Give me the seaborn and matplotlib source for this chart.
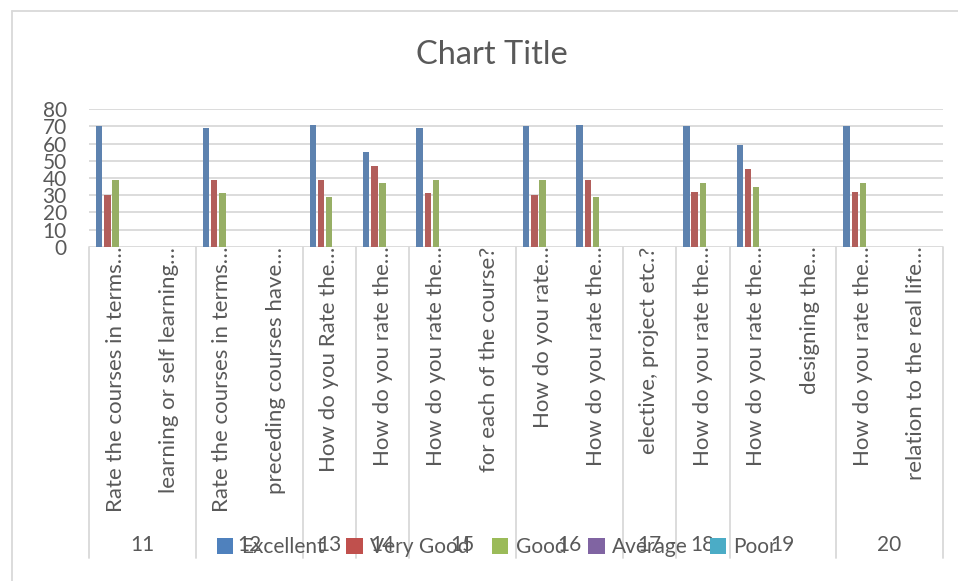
import matplotlib
matplotlib.use("Agg")
import matplotlib.pyplot as plt
import matplotlib.transforms as mtransforms
from matplotlib.patches import Patch
from matplotlib.lines import Line2D
import seaborn as sns
import pandas as pd

# ---------------- data ----------------
slot_labels = [
    "Rate the courses in terms\u2026", "learning or self learning\u2026",
    "Rate the courses in terms\u2026", "preceding courses have\u2026",
    "How do you Rate the\u2026",
    "How do you rate the\u2026",
    "How do you rate the\u2026", "for each of the course?",
    "How do you rate\u2026", "How do you rate the\u2026",
    "elective, project etc.?",
    "How do you rate the\u2026",
    "How do you rate the\u2026", "designing the\u2026",
    "How do you rate the\u2026", "relation to the real life\u2026",
]
group_names = ["11", "12", "13", "14", "15", "16", "17", "18", "19", "20"]
group_sizes = [2, 2, 1, 1, 2, 2, 1, 1, 2, 2]

series_names = ["Excellent", "Very Good", "Good", "Average", "Poor"]
series_colors = ["#4F81BD", "#C0504D", "#9BBB59", "#8064A2", "#4BACC6"]

excellent = [70, None, 69, None, 71, 55, 69, None, 70, 71, None, 70, 59, None, 70, None]
very_good = [30, None, 39, None, 39, 47, 31, None, 30, 39, None, 32, 45, None, 32, None]
good      = [39, None, 31, None, 29, 37, 39, None, 39, 29, None, 37, 35, None, 37, None]
average   = [0, None, 0, None, 0, 0, 0, None, 0, 0, None, 0, 0, None, 0, None]
poor      = [0, None, 0, None, 0, 0, 0, None, 0, 0, None, 0, 0, None, 0, None]

y_ticks = [0, 10, 20, 30, 40, 50, 60, 70, 80]

# ---------------- table ----------------
rows = []
for name, vals in zip(series_names, [excellent, very_good, good, average, poor]):
    for i, v in enumerate(vals):
        if v is not None:
            rows.append({"slot": i, "series": name, "value": v})
df = pd.DataFrame(rows)

# ---------------- figure ----------------
sns.set_theme(style="white")
plt.rcParams["font.family"] = ["Lato", "DejaVu Sans"]
TXT = "#595959"
GRID = "#D9D9D9"

W, H = 958, 581
fig = plt.figure(figsize=(W / 100, H / 100), dpi=100)
ax_left, ax_right, ax_top, ax_bot = 89, 943, 109.3, 246.7
ax = fig.add_axes([ax_left / W, 1 - ax_bot / H, (ax_right - ax_left) / W, (ax_bot - ax_top) / H])

sns.barplot(data=df, x="slot", y="value", hue="series", order=list(range(len(slot_labels))),
            hue_order=series_names, palette=series_colors, width=0.77, gap=0.22,
            errorbar=None, linewidth=0, legend=False, ax=ax)

ax.set_xlim(-0.5, len(slot_labels) - 0.5)
ax.set_ylim(0, 80)
ax.set_yticks(y_ticks)
ax.set_yticklabels([str(t) for t in y_ticks], fontsize=15, color=TXT)
ax.yaxis.grid(True, color=GRID, linewidth=1.3)
ax.set_axisbelow(True)
for s in ax.spines.values():
    s.set_visible(False)
ax.tick_params(axis="y", length=0, pad=16)
ax.tick_params(axis="x", length=0, pad=0)
ax.set_xticks(range(len(slot_labels)))
ax.set_xticklabels(slot_labels, rotation=90, va="top", ha="center", fontsize=16, color=TXT)
ax.set_xlabel("")
ax.set_ylabel("")

# multi-level category separators and group labels
trans = mtransforms.blended_transform_factory(ax.transData, ax.transAxes)
px_per_axes = ax_bot - ax_top
sep_bottom = -(558 - ax_bot) / px_per_axes
grp_y = -(545 - ax_bot) / px_per_axes
pos = -0.5
bounds = [pos]
for name, n in zip(group_names, group_sizes):
    center = pos + n / 2
    ax.text(center, grp_y, name, transform=trans, ha="center", va="center",
            fontsize=15, color=TXT, clip_on=False)
    pos += n
    bounds.append(pos)
for b in bounds:
    ax.add_line(Line2D([b, b], [0, sep_bottom], transform=trans, color=GRID,
                       linewidth=1.3, clip_on=False))

# title
fig.text(491.5 / W, 1 - 55 / H, "Chart Title", ha="center", va="center",
         fontsize=23.5, color=TXT)

# legend
handles = [Patch(facecolor=c, edgecolor="none", label=n) for n, c in zip(series_names, series_colors)]
fig.legend(handles=handles, loc="center", bbox_to_anchor=(497 / W, 1 - 547 / H), ncol=5,
           frameon=False, fontsize=15, labelcolor=TXT, handlelength=0.8, handleheight=0.8,
           handletextpad=0.35, columnspacing=1.05, borderpad=0)

# outer chart border (partially cropped)
fig.add_artist(Line2D([11.5 / W, 1.0], [1 - 10.7 / H, 1 - 10.7 / H], transform=fig.transFigure,
                      color=GRID, linewidth=1.3))
fig.add_artist(Line2D([11.5 / W, 11.5 / W], [1 - 10.7 / H, 0.0], transform=fig.transFigure,
                      color=GRID, linewidth=1.3))

fig.savefig("out.png", dpi=100, facecolor="white")
